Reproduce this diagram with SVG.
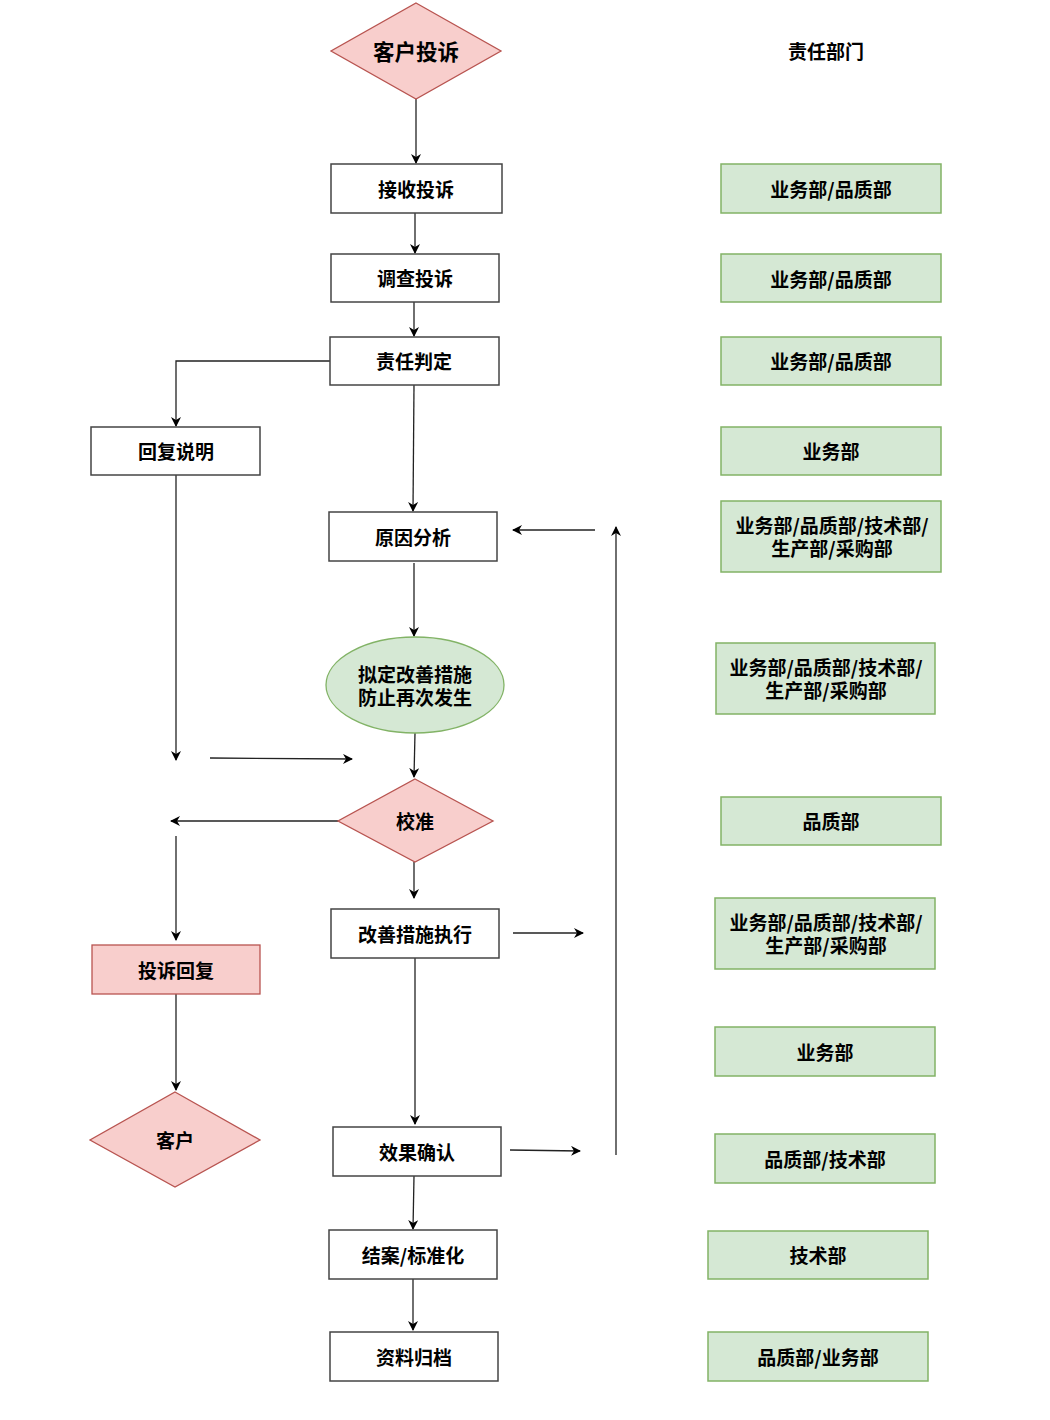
<svg xmlns="http://www.w3.org/2000/svg" width="1050" height="1420" viewBox="0 0 1050 1420">
<defs>
<marker id="arr" viewBox="0 0 10 10" refX="9" refY="5" markerWidth="10" markerHeight="10" markerUnits="userSpaceOnUse" orient="auto">
<path d="M0,0 L10,5 L0,10 L3,5 Z" fill="#000"/>
</marker>
<style>
.box{fill:#fff;stroke:#444;stroke-width:1.5}
.red{fill:#f8cecc;stroke:#b85450;stroke-width:1.3}
.grn{fill:#d5e8d4;stroke:#82b366;stroke-width:1.5}
.t{font-family:"Noto Sans CJK SC","Liberation Sans",sans-serif;font-size:19px;font-weight:bold;fill:#000;text-anchor:middle;dominant-baseline:central}
.c{fill:none;stroke:#222;stroke-width:1.3;marker-end:url(#arr)}
.l{fill:none;stroke:#222;stroke-width:1.3}
</style>
</defs>
<rect width="1050" height="1420" fill="#fff"/>
<g id="connectors">
<path class="c" d="M416,99 L416,163"/>
<path class="c" d="M415,213 L415,253"/>
<path class="c" d="M414,302 L414,336"/>
<path class="c" d="M330,361 L176,361 L176,426"/>
<path class="c" d="M176,475 L176,760"/>
<path class="c" d="M210,758 L352,759"/>
<path class="c" d="M414,385 L413,511"/>
<path class="c" d="M595,530 L513,530"/>
<path class="c" d="M616,1155 L616,527"/>
<path class="c" d="M414,563 L414,636"/>
<path class="c" d="M415,733 L414,777"/>
<path class="c" d="M338,821 L171,821"/>
<path class="c" d="M176,836 L176,940"/>
<path class="c" d="M176,994 L176,1090"/>
<path class="c" d="M414,862 L414,898"/>
<path class="c" d="M513,933 L583,933"/>
<path class="c" d="M415,958 L415,1124"/>
<path class="c" d="M510,1150 L580,1151"/>
<path class="c" d="M414,1176 L413,1229"/>
<path class="c" d="M413,1279 L413,1330"/>
</g>
<g id="n-start"><polygon class="red" points="416,3 501,51 416,99 331,51"/><text class="t" x="416" y="50" style="font-size:21.5px">客户投诉</text></g>
<g id="n-receive"><rect class="box" x="331" y="164" width="171" height="49"/><text class="t" x="416" y="188">接收投诉</text></g>
<g id="n-investigate"><rect class="box" x="331" y="254" width="168" height="48"/><text class="t" x="415" y="277">调查投诉</text></g>
<g id="n-judge"><rect class="box" x="330" y="337" width="169" height="48"/><text class="t" x="414" y="360">责任判定</text></g>
<g id="n-reply-explain"><rect class="box" x="91" y="427" width="169" height="48"/><text class="t" x="176" y="450">回复说明</text></g>
<g id="n-cause"><rect class="box" x="329" y="512" width="168" height="49"/><text class="t" x="413" y="536">原因分析</text></g>
<g id="n-measure"><ellipse class="grn" cx="415" cy="685" rx="89" ry="48" style="stroke-width:1.3"/><text class="t" x="415" y="673">拟定改善措施<tspan x="415" dy="23">防止再次发生</tspan></text></g>
<g id="n-calibrate"><polygon class="red" points="415,779 493,821 415,862 338,821"/><text class="t" x="415" y="820">校准</text></g>
<g id="n-complaint-reply"><rect class="red" x="92" y="945" width="168" height="49"/><text class="t" x="176" y="969">投诉回复</text></g>
<g id="n-customer"><polygon class="red" points="175,1092 260,1140 175,1187 90,1140"/><text class="t" x="175" y="1139">客户</text></g>
<g id="n-execute"><rect class="box" x="331" y="909" width="168" height="49"/><text class="t" x="415" y="933">改善措施执行</text></g>
<g id="n-verify"><rect class="box" x="333" y="1127" width="168" height="49"/><text class="t" x="417" y="1151">效果确认</text></g>
<g id="n-close"><rect class="box" x="329" y="1230" width="168" height="49"/><text class="t" x="413" y="1254">结案/标准化</text></g>
<g id="n-archive"><rect class="box" x="330" y="1332" width="168" height="49"/><text class="t" x="414" y="1356">资料归档</text></g>
<g id="n-header"><text class="t" x="826" y="50">责任部门</text></g>
<g id="d1"><rect class="grn" x="721" y="164" width="220" height="49"/><text class="t" x="831" y="188">业务部/品质部</text></g>
<g id="d2"><rect class="grn" x="721" y="254" width="220" height="48"/><text class="t" x="831" y="278">业务部/品质部</text></g>
<g id="d3"><rect class="grn" x="721" y="337" width="220" height="48"/><text class="t" x="831" y="360">业务部/品质部</text></g>
<g id="d4"><rect class="grn" x="721" y="427" width="220" height="48"/><text class="t" x="831" y="450">业务部</text></g>
<g id="d5"><rect class="grn" x="721" y="501" width="220" height="71"/><text class="t" x="832" y="524">业务部/品质部/技术部/<tspan x="832" dy="23">生产部/采购部</tspan></text></g>
<g id="d6"><rect class="grn" x="716" y="643" width="219" height="71"/><text class="t" x="826" y="666">业务部/品质部/技术部/<tspan x="826" dy="23">生产部/采购部</tspan></text></g>
<g id="d7"><rect class="grn" x="721" y="797" width="220" height="48"/><text class="t" x="831" y="820">品质部</text></g>
<g id="d8"><rect class="grn" x="715" y="898" width="220" height="71"/><text class="t" x="826" y="921">业务部/品质部/技术部/<tspan x="826" dy="23">生产部/采购部</tspan></text></g>
<g id="d9"><rect class="grn" x="715" y="1027" width="220" height="49"/><text class="t" x="825" y="1051">业务部</text></g>
<g id="d10"><rect class="grn" x="715" y="1134" width="220" height="49"/><text class="t" x="825" y="1158">品质部/技术部</text></g>
<g id="d11"><rect class="grn" x="708" y="1231" width="220" height="48"/><text class="t" x="818" y="1254">技术部</text></g>
<g id="d12"><rect class="grn" x="708" y="1332" width="220" height="49"/><text class="t" x="818" y="1356">品质部/业务部</text></g>
</svg>
